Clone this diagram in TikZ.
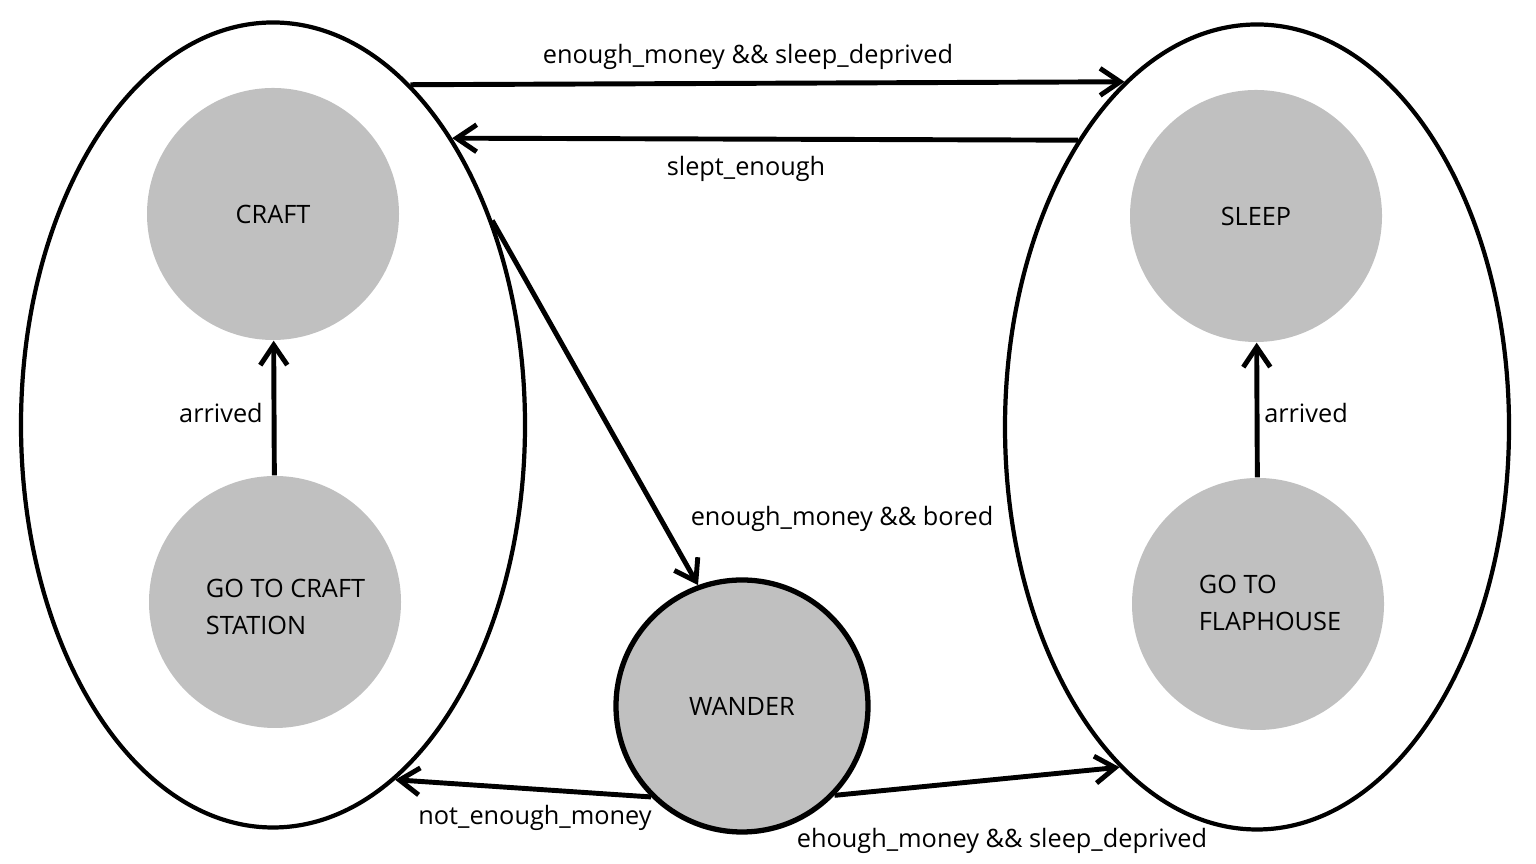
\documentclass[tikz,border=0pt]{standalone}
\usepackage{fontspec}
\setmainfont{Open Sans}
\usepackage{tikz}
\usetikzlibrary{arrows.meta,shapes,positioning}
\definecolor{stategray}{RGB}{192,192,192}
\tikzstyle{fsmtrans} = [line width=1.4pt,-{Straight Barb[length=0.2cm,width=0.27cm]}]
\tikzstyle{fsmstate} = [circle, fill=stategray, minimum size=2.52cm, inner sep=0pt]
\tikzstyle{fsmgroup} = [ellipse, draw, line width=1.2pt, minimum width=5.04cm, minimum height=8.05cm, inner sep=0pt]
\tikzstyle{fsmtext} = [align=left, font=\fontsize{7.2}{10.3}\selectfont, inner sep=0pt]

\begin{document}
\begin{tikzpicture}[font=\fontsize{7.2}{9}\selectfont]
\useasboundingbox (0,0) rectangle (15.36,8.64);

% Two groups of states
\node[fsmgroup] (work) at (2.73,4.39) {};
\node[fsmgroup] (rest) at (12.57,4.37) {};

% States
\node[fsmstate] (craft) at (2.73,6.50) {CRAFT};
\node[fsmstate] (gocraft) at (2.75,2.62) {};
\node[fsmstate] (sleep) at (12.56,6.48) {SLEEP};
\node[fsmstate] (goflap) at (12.58,2.60) {};
\node[fsmstate, draw, line width=1.5pt] (wander) at (7.42,1.58) {WANDER};

% Two-line state names
\node[fsmtext] (gocrafttxt) at (2.855,2.57) {GO TO CRAFT\\STATION};
\node[fsmtext] (gofaptxt) at (12.70,2.61) {GO TO\\FLAPHOUSE};

% Transitions
\draw[fsmtrans] (gocraft) -- (craft);
\draw[fsmtrans] (goflap) -- (sleep);
\draw[fsmtrans] (work.68.2) -- (rest.111.9);
\draw[fsmtrans] (rest.122.5) -- (work.58);
\draw[fsmtrans] (work.43.5) -- (wander.110);
\draw[fsmtrans] (wander.225) -- (work.289);
\draw[fsmtrans] (wander.316) -- (rest.248.3);

% Labels
\node (lbltop) at (7.48,8.07) {enough\_money \&\& sleep\_deprived};
\node (lblslept) at (7.46,6.95) {slept\_enough};
\node (lblarrl) at (2.21,4.51) {arrived};
\node (lblarrr) at (13.06,4.51) {arrived};
\node (lblbored) at (8.42,3.45) {enough\_money \&\& bored};
\node (lblnot) at (5.35,0.46) {not\_enough\_money};
\node (lblbot) at (10.02,0.23) {ehough\_money \&\& sleep\_deprived};
\end{tikzpicture}
\end{document}
